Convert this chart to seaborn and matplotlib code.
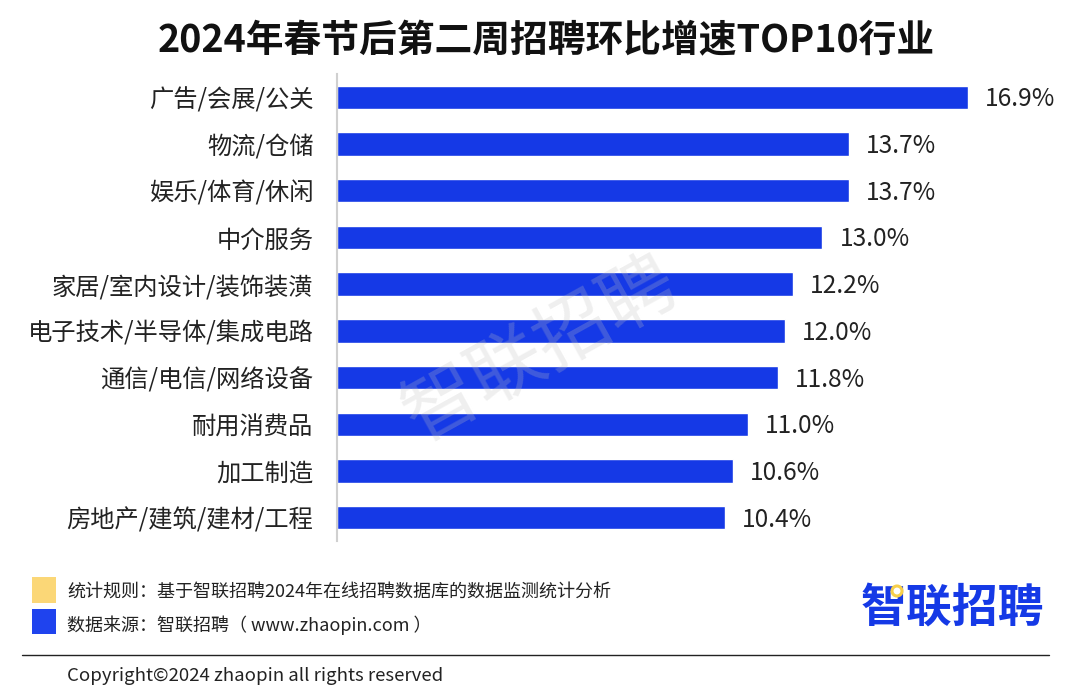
import matplotlib
matplotlib.use('Agg')
import matplotlib.pyplot as plt
import matplotlib.patches as mpatches
import pandas as pd
import seaborn as sns

hangye = ['广告/会展/公关', '物流/仓储', '娱乐/体育/休闲', '中介服务', '家居/室内设计/装饰装潢',
          '电子技术/半导体/集成电路', '通信/电信/网络设备', '耐用消费品', '加工制造', '房地产/建筑/建材/工程']
zengsu = [16.9, 13.7, 13.7, 13.0, 12.2, 12.0, 11.8, 11.0, 10.6, 10.4]
biaoqian = ['16.9%', '13.7%', '13.7%', '13.0%', '12.2%', '12.0%', '11.8%', '11.0%', '10.6%', '10.4%']

df = pd.DataFrame({'hangye': hangye, 'zengsu': zengsu})

sns.set_theme(style='white')
plt.rcParams['font.family'] = ['Noto Sans CJK SC', 'DejaVu Sans']

W, H = 1080, 698
fig = plt.figure(figsize=(W / 100, H / 100), dpi=100)
ax = fig.add_axes([337 / W, 1 - 541 / H, (1000 - 337) / W, (541 - 74) / H])

sns.barplot(data=df, x='zengsu', y='hangye', color='#1539e6', saturation=1, width=0.5, ax=ax)
ax.set_xlim(0, 16.9 * 663 / 631)
ax.set_ylim(9.5, -0.5)
ax.set_xlabel('')
ax.set_ylabel('')
ax.set_xticks([])
ax.tick_params(axis='y', length=0, pad=17, labelsize=17.5, labelcolor='#222222')
for s in ['top', 'right', 'bottom']:
    ax.spines[s].set_visible(False)
ax.spines['left'].set_color('#d0d0d0')
ax.spines['left'].set_linewidth(1.5)

for i, t in enumerate(biaoqian):
    ax.annotate(t, (zengsu[i], i), xytext=(17, -2), textcoords='offset pixels',
                va='center', ha='left', fontsize=17.7, color='#222222')

# 水印
fig.text(541 / W, 1 - 350 / H, '智联招聘', fontsize=54, color='#c0c0c0', alpha=0.25, rotation=29,
         ha='center', va='center', fontweight='medium')

fig.text(546 / W, 1 - 41 / H, '2024年春节后第二周招聘环比增速TOP10行业', fontsize=27.2, fontweight='bold',
         color='#111111', ha='center', va='center')

# 图例
fig.add_artist(mpatches.Rectangle((32 / W, 1 - 603 / H), 24 / W, 26 / H, transform=fig.transFigure,
                                  facecolor='#fbd777', edgecolor='none'))
fig.add_artist(mpatches.Rectangle((32 / W, 1 - 634 / H), 24 / W, 25 / H, transform=fig.transFigure,
                                  facecolor='#1f43ee', edgecolor='none'))
fig.text(67 / W, 1 - 592 / H, '统计规则：基于智联招聘2024年在线招聘数据库的数据监测统计分析', fontsize=13,
         color='#222222', va='center')
fig.text(67 / W, 1 - 625 / H, '数据来源：智联招聘（ www.zhaopin.com ）', fontsize=13, color='#222222', va='center')

# logo
fig.text(952 / W, 1 - 609 / H, '智联招聘', fontsize=33, fontweight='bold', color='#1539e6', ha='center', va='center')
fig.add_artist(mpatches.Ellipse((897 / W, 1 - 591 / H), 10 / W, 10 / H, transform=fig.transFigure,
                                facecolor='white', edgecolor='#f7cf4a', linewidth=2.2, zorder=5))

fig.add_artist(plt.Line2D([22 / W, 1049 / W], [1 - 655 / H, 1 - 655 / H], color='#222222', lw=1))
fig.text(67 / W, 1 - 676 / H, 'Copyright©2024 zhaopin all rights reserved', fontsize=13.4, color='#222222',
         va='center')

fig.savefig('out.png', dpi=100)
